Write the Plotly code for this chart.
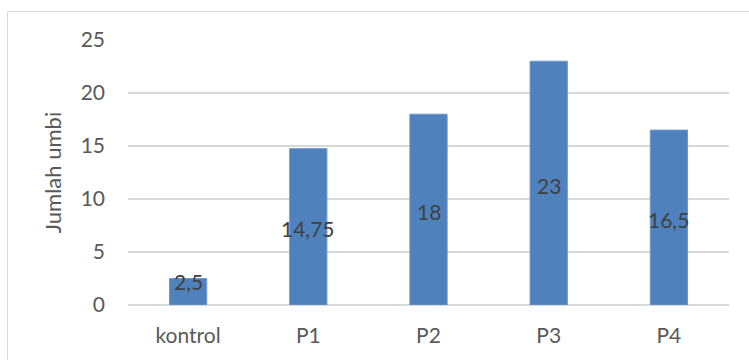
import plotly.graph_objects as go

# Data
categories = ["kontrol", "P1", "P2", "P3", "P4"]
values = [2.5, 14.75, 18, 23, 16.5]
value_labels = ["2,5", "14,75", "18", "23", "16,5"]
y_ticks = [0, 5, 10, 15, 20, 25]

BAR_COLOR = "#4F81BD"
TEXT_COLOR = "#595959"
LABEL_COLOR = "#404040"
GRID_COLOR = "#D9D9D9"
FONT = "Lato, Open Sans, sans-serif"
FS = 21

W, H = 749, 360
ML, MR, MT, MB = 128, 20, 40, 55

fig = go.Figure()
fig.add_trace(go.Bar(
    x=categories,
    y=values,
    width=0.31,
    marker=dict(color=BAR_COLOR, line=dict(color="#6F97CB", width=1)),
    hoverinfo="x+y",
))

# Value labels centred on each bar (kept above the axis for short bars)
for cat, v, txt in zip(categories, values, value_labels):
    fig.add_annotation(
        x=cat, y=max(v / 2, 2.4), text=txt, showarrow=False,
        yshift=-2, font=dict(family=FONT, size=FS, color=LABEL_COLOR),
    )

# Outer chart border (pixel positions converted to paper coordinates)
pw = W - ML - MR
ph = H - MT - MB


def px_x(p):
    return (p - ML) / pw


def px_y(p):
    return 1 - (p - MT) / ph


fig.add_shape(
    type="rect", xref="paper", yref="paper",
    x0=px_x(7.5), x1=px_x(W + 5),
    y0=px_y(H + 5), y1=px_y(11.5),
    line=dict(color="#D9D9D9", width=1), fillcolor="rgba(0,0,0,0)",
    layer="below",
)

fig.update_layout(
    width=W, height=H,
    margin=dict(l=ML, r=MR, t=MT, b=MB),
    paper_bgcolor="white", plot_bgcolor="white",
    showlegend=False,
    font=dict(family=FONT, size=FS, color=TEXT_COLOR),
    xaxis=dict(
        type="category", range=[-0.5, 4.5],
        showgrid=False, showline=False, ticks="",
        tickfont=dict(family=FONT, size=FS, color=TEXT_COLOR),
        ticklabelstandoff=16,
    ),
    yaxis=dict(
        range=[0, 25], tickvals=y_ticks,
        showgrid=True, gridcolor=GRID_COLOR, gridwidth=1.5,
        zeroline=True, zerolinecolor=GRID_COLOR, zerolinewidth=1.5,
        showline=False, ticks="",
        tickfont=dict(family=FONT, size=FS, color=TEXT_COLOR),
        ticklabelstandoff=22,
        title=dict(text="Jumlah umbi", font=dict(family=FONT, size=22, color=TEXT_COLOR),
                   standoff=12),
    ),
)

fig.write_html("out.html")
